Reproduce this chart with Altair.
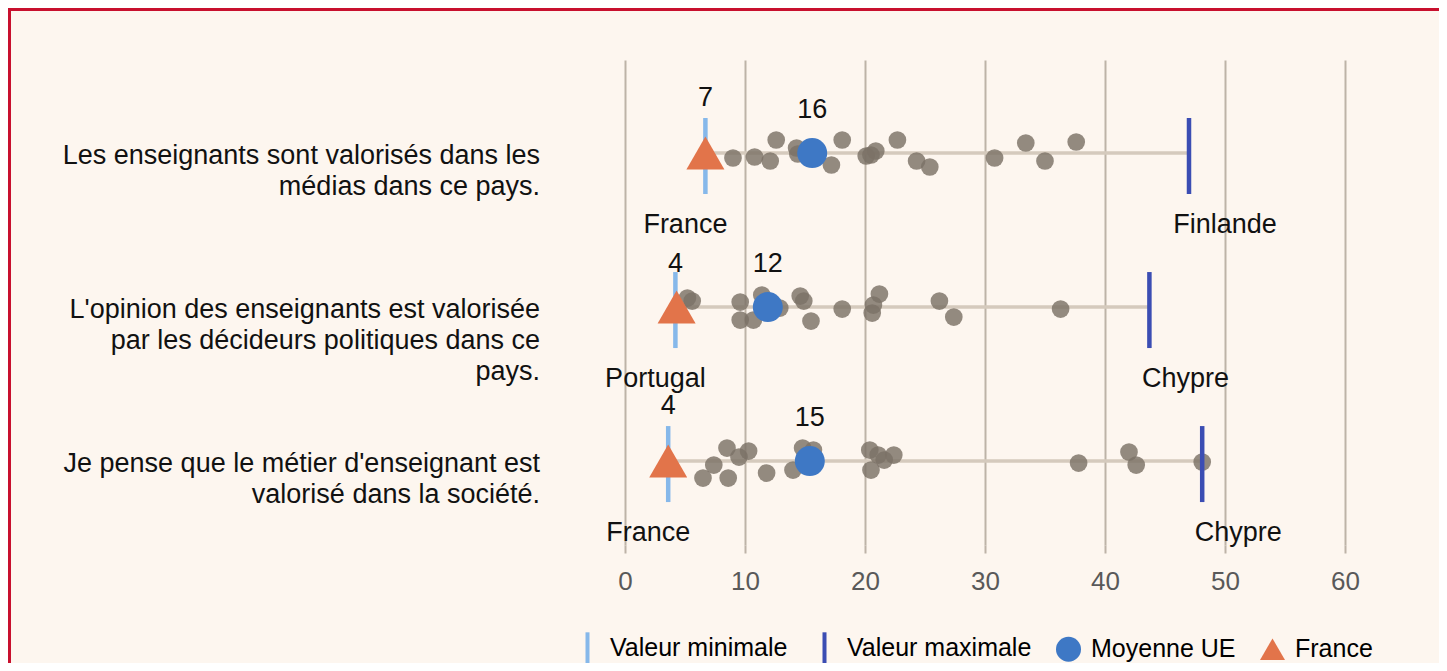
import altair as alt
import pandas as pd

FONT = "Liberation Sans"

# ---------------- data ----------------
questions = [
    "Les enseignants sont valorisés dans les\nmédias dans ce pays.",
    "L'opinion des enseignants est valorisée\npar les décideurs politiques dans ce\npays.",
    "Je pense que le métier d'enseignant est\nvalorisé dans la société.",
]
min_values = [6.7, 4.2, 3.6]
min_countries = ["France", "Portugal", "France"]
max_values = [47.0, 43.7, 48.1]
max_countries = ["Finlande", "Chypre", "Chypre"]
mean_values = [15.6, 11.9, 15.4]
france_values = [6.7, 4.3, 3.6]

# individual countries (value) and their vertical jitter (pixels) per question
q1_values = [9.0, 10.8, 12.1, 12.6, 14.3, 14.4, 17.2, 18.1, 20.1, 20.5, 20.9, 22.7, 24.3, 25.4, 30.8, 33.4, 35.0, 37.6]
q1_jitter = [5, 4, 8, -13, -5, 1, 12, -13, 3, 2, -2, -13, 8, 14, 5, -10, 8, -11]
q2_values = [5.2, 5.6, 9.6, 9.6, 10.7, 11.4, 12.9, 14.6, 14.9, 15.5, 18.1, 20.6, 20.7, 21.2, 26.2, 27.4, 36.3]
q2_jitter = [-9, -6, -5, 13, 13, -12, 1, -11, -6, 14, 2, 6, -2, -13, -6, 10, 2]
q3_values = [6.5, 7.4, 8.6, 8.5, 9.5, 10.3, 11.8, 14.0, 14.8, 15.7, 20.4, 20.5, 21.1, 21.6, 22.4, 37.8, 42.0, 42.6, 48.1]
q3_jitter = [17, 4, 17, -13, -4, -10, 12, 9, -13, -11, -11, 9, -6, -1, -6, 2, -9, 4, 1]

x_ticks = [0, 10, 20, 30, 40, 50, 60]
series = ["Valeur minimale", "Valeur maximale", "Moyenne UE", "France"]
series_colors = ["#86b8ea", "#3b4db3", "#3e78c5", "#e2744a"]

# ---------------- tables ----------------
ROW_PX = 154.0
rows = pd.DataFrame({
    "row": [0, 1, 2],
    "question": questions,
    "minv": min_values,
    "maxv": max_values,
    "meanv": mean_values,
    "francev": france_values,
    "minc": min_countries,
    "maxc": max_countries,
})
rows["minlab"] = [str(int(round(v))) for v in min_values]
rows["meanlab"] = [str(int(round(v))) for v in mean_values]

dot_rows = []
for r, (vals, jit) in enumerate([(q1_values, q1_jitter), (q2_values, q2_jitter), (q3_values, q3_jitter)]):
    for v, j in zip(vals, jit):
        dot_rows.append({"row": r, "value": v, "yy": r + j / ROW_PX})
dots = pd.DataFrame(dot_rows)

W, H = 720, 485
PAD = {"left": 617, "top": 52, "right": 94, "bottom": 118}
xscale = alt.Scale(domain=[0, 60], nice=False, zero=False)
yscale = alt.Scale(domain=[-0.604, 2.545], reverse=True, nice=False, zero=False)
cscale = alt.Scale(domain=series, range=series_colors)
bar_path = "M-0.16,-1.25L0.16,-1.25L0.16,1.25L-0.16,1.25Z"
sscale = alt.Scale(domain=series, range=[bar_path, bar_path, "circle", "triangle-up"])
GRID = "#bdb3a7"

legend = alt.Legend(
    orient="none", legendX=-50, legendY=575, direction="horizontal", title=None,
    symbolSize=625, labelFontSize=25, labelFont=FONT, labelColor="#000000",
    labelOffset=10, columnPadding=24, padding=0, symbolStrokeWidth=0,
    symbolOpacity=1, labelLimit=400,
)

xaxis = alt.Axis(
    values=x_ticks, domain=False, ticks=True, tickColor=GRID, tickSize=8, tickWidth=2,
    labelFontSize=26, labelFont=FONT, labelColor="#595959", labelPadding=15,
    labelFlush=False, labelOverlap=False,
    grid=True, gridColor=GRID, gridWidth=2, title=None,
)


def X(field):
    return alt.X(field, scale=xscale, axis=xaxis)


def Y(field):
    return alt.Y(field, scale=yscale, axis=None)


base = alt.Chart(rows)

line = base.mark_rule(color="#d5cabd", strokeWidth=3.5).encode(
    x=X("minv:Q"), x2="maxv:Q", y=Y("row:Q"),
)

dot_layer = alt.Chart(dots).mark_circle(size=313, color="#7b7166", opacity=0.82).encode(
    x=X("value:Q"), y=Y("yy:Q"),
)

min_tick = base.mark_tick(orient="vertical", size=76, thickness=4.5, yOffset=3,
                          color=series_colors[0], opacity=1).encode(
    x=X("minv:Q"), y=Y("row:Q"),
)
max_tick = base.mark_tick(orient="vertical", size=76, thickness=4.5, yOffset=3,
                          color=series_colors[1], opacity=1).encode(
    x=X("maxv:Q"), y=Y("row:Q"),
)

mean_pts = base.transform_calculate(serie="'Moyenne UE'").mark_point(
    filled=True, size=900, opacity=1).encode(
    x=X("meanv:Q"), y=Y("row:Q"),
    color=alt.Color("serie:N", scale=cscale, legend=legend),
    shape=alt.Shape("serie:N", scale=sscale, legend=legend),
)
france_pts = base.transform_calculate(serie="'France'").mark_point(
    filled=True, size=1444, opacity=1).encode(
    x=X("francev:Q"), y=Y("row:Q"),
    color=alt.Color("serie:N", scale=cscale, legend=legend),
    shape=alt.Shape("serie:N", scale=sscale, legend=legend),
)

txt = dict(font=FONT, fontSize=27, color="#111111")
# label of the minimum: higher when the French triangle sits on the minimum
min_lab_fr = base.transform_filter("datum.francev == datum.minv").mark_text(
    baseline="middle", align="center", dy=-55, **txt).encode(
    x=X("minv:Q"), y=Y("row:Q"), text="minlab:N")
min_lab_other = base.transform_filter("datum.francev != datum.minv").mark_text(
    baseline="middle", align="center", dy=-43, **txt).encode(
    x=X("minv:Q"), y=Y("row:Q"), text="minlab:N")
mean_lab = base.mark_text(baseline="middle", align="center", dy=-43, **txt).encode(
    x=X("meanv:Q"), y=Y("row:Q"), text="meanlab:N")
minc_lab = base.mark_text(baseline="middle", align="center", dx=-20, dy=72, **txt).encode(
    x=X("minv:Q"), y=Y("row:Q"), text="minc:N")
maxc_lab = base.mark_text(baseline="middle", align="center", dx=36, dy=72, **txt).encode(
    x=X("maxv:Q"), y=Y("row:Q"), text="maxc:N")
q_lab = base.mark_text(baseline="middle", align="right", dy=3, lineBreak="\n",
                       lineHeight=31, **txt).encode(
    x=alt.value(-85), y=Y("row:Q"), text="question:N")

one = pd.DataFrame({"k": [0]})
frame_left = alt.Chart(one).mark_rule(color="#c8102e", strokeWidth=3).encode(
    x=alt.value(-615.5), y=alt.value(-PAD["top"]), y2=alt.value(H + PAD["bottom"]))
frame_top = alt.Chart(one).mark_rule(color="#c8102e", strokeWidth=3).encode(
    x=alt.value(-PAD["left"]), x2=alt.value(W + PAD["right"]), y=alt.value(-50.5))

chart = alt.layer(
    line, dot_layer, min_tick, max_tick, mean_pts, france_pts,
    min_lab_fr, min_lab_other, mean_lab, minc_lab, maxc_lab, q_lab,
    frame_left, frame_top,
).properties(
    width=W, height=H,
    padding=PAD,
    autosize=alt.AutoSizeParams(type="none"),
    background="#fdf6ef",
).configure_view(stroke=None)

chart.save("out.html", embed_options={"renderer": "svg", "actions": False})
